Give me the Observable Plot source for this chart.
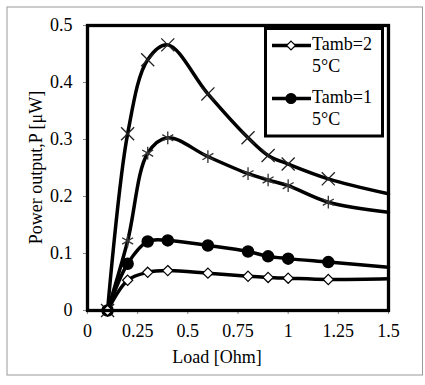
<!DOCTYPE html>
<html><head><meta charset="utf-8">
<script src="https://cdn.jsdelivr.net/npm/d3@7"></script>
<script src="https://cdn.jsdelivr.net/npm/@observablehq/plot@0.6"></script>
<style>
body{margin:0;background:#fff}
svg, svg text{font-family:"Liberation Serif","Times New Roman",serif !important;}
</style>
</head><body><div id="chart"></div>
<script>
// Measured loads (Ohm)
const loads = [0.1, 0.2, 0.3, 0.4, 0.6, 0.8, 0.9, 1.0, 1.2];
// Smoothed trend lines continue to the right edge
const lineEndLoad = 1.5;

// Power output (µW) per series
const pTimes    = [0, 0.310, 0.440, 0.466, 0.380, 0.303, 0.272, 0.257, 0.231];
const pAsterisk = [0, 0.122, 0.276, 0.303, 0.270, 0.240, 0.229, 0.219, 0.190];
const p15       = [0, 0.082, 0.121, 0.123, 0.114, 0.1035, 0.095, 0.091, 0.085];
const p25       = [0, 0.053, 0.067, 0.070, 0.0655, 0.060, 0.058, 0.0567, 0.0544];
// line values at the right edge (1.5)
const endTimes = 0.2047, endAsterisk = 0.1725, end15 = 0.076, end25 = 0.0556;

const xTicks = [0, 0.25, 0.5, 0.75, 1, 1.25, 1.5];
const yTicks = [0, 0.1, 0.2, 0.3, 0.4, 0.5];
const legendLabels = [["Tamb=2", "5°C"], ["Tamb=1", "5°C"]];
const xLabel = "Load [Ohm]";
const yLabel = "Power output,P [μW]";
const FONT = "'Liberation Serif', 'Times New Roman', serif";

function pts(vals, name) {
  return loads.map((x, i) => ({load: x, p: vals[i], series: name}));
}
const sTimes = pts(pTimes, "times");
const sAst = pts(pAsterisk, "asterisk");
const s15 = pts(p15, "15");
const s25 = pts(p25, "25");
const lines = [
  ...sTimes, {load: lineEndLoad, p: endTimes, series: "times"},
  ...sAst, {load: lineEndLoad, p: endAsterisk, series: "asterisk"},
  ...s15, {load: lineEndLoad, p: end15, series: "15"},
  ...s25, {load: lineEndLoad, p: end25, series: "25"}
];

const fmt = d => String(d);

const chart = Plot.plot({
  width: 425, height: 385,
  marginLeft: 87, marginRight: 37, marginTop: 25, marginBottom: 75,
  style: `font-family: ${FONT}; font-size: 18px; background: white; color: black;`,
  x: {domain: [0, 1.5]},
  y: {domain: [0, 0.5]},
  marks: [
    Plot.axisX({ticks: xTicks, tickFormat: fmt, tickSize: 4, tickPadding: 10, label: null, fontSize: 18, fontFamily: FONT, stroke: "#888"}),
    Plot.axisY({ticks: yTicks, tickFormat: fmt, tickSize: 4, tickPadding: 11, label: null, fontSize: 18, fontFamily: FONT, stroke: "#888"}),
    Plot.line(lines, {x: "load", y: "p", z: "series", curve: "catmull-rom", stroke: "black", strokeWidth: 3.5}),
    Plot.dot(sTimes, {x: "load", y: "p", symbol: "times", r: 6, stroke: "#222", strokeWidth: 1.3}),
    Plot.dot(sAst, {x: "load", y: "p", symbol: "asterisk", r: 6, stroke: "#333", strokeWidth: 1.3}),
    Plot.dot(s15, {x: "load", y: "p", symbol: "circle", r: 5.5, fill: "black", stroke: "black"}),
    Plot.dot(s25, {x: "load", y: "p", symbol: "diamond2", r: 4.6, fill: "white", stroke: "black", strokeWidth: 1.2}),
    Plot.frame({stroke: "black", strokeWidth: 3.3})
  ]
});

const svg = d3.select(chart);
// outer border
svg.append("rect").attr("x", 7).attr("y", 7).attr("width", 415.5).attr("height", 368)
  .attr("fill", "none").attr("stroke", "#999").attr("stroke-width", 1);
// axis titles
svg.append("text").attr("x", 217).attr("y", 363).attr("text-anchor", "middle")
  .attr("font-family", FONT).attr("font-size", 18).attr("fill", "black").text(xLabel);
svg.append("text").attr("transform", "translate(42,167.5) rotate(-90)").attr("text-anchor", "middle")
  .attr("font-family", FONT).attr("font-size", 18).attr("fill", "black").text(yLabel);
// legend
const lg = svg.append("g");
lg.append("rect").attr("x", 265.5).attr("y", 28.5).attr("width", 117).attr("height", 107.5)
  .attr("fill", "white").attr("stroke", "black").attr("stroke-width", 3);
const entries = [
  {sym: d3.symbolDiamond2, size: Math.PI * 4 * 4, fill: "white", base: 50},
  {sym: d3.symbolCircle, size: Math.PI * 5 * 5, fill: "black", base: 103}
];
entries.forEach((e, i) => {
  const ly = e.base - 4.5;
  lg.append("line").attr("x1", 272).attr("x2", 311).attr("y1", ly).attr("y2", ly)
    .attr("stroke", "black").attr("stroke-width", 3.5);
  lg.append("path").attr("d", d3.symbol(e.sym, e.size)()).attr("transform", `translate(291,${ly})`)
    .attr("fill", e.fill).attr("stroke", "black").attr("stroke-width", 1.2);
  lg.append("text").attr("x", 312).attr("y", e.base).attr("text-anchor", "start")
    .attr("font-family", FONT).attr("font-size", 18).attr("fill", "black").text(legendLabels[i][0]);
  lg.append("text").attr("x", 312).attr("y", e.base + 22).attr("text-anchor", "start")
    .attr("font-family", FONT).attr("font-size", 18).attr("fill", "black").text(legendLabels[i][1]);
});

document.getElementById("chart").appendChild(chart);
</script>
</body></html>
